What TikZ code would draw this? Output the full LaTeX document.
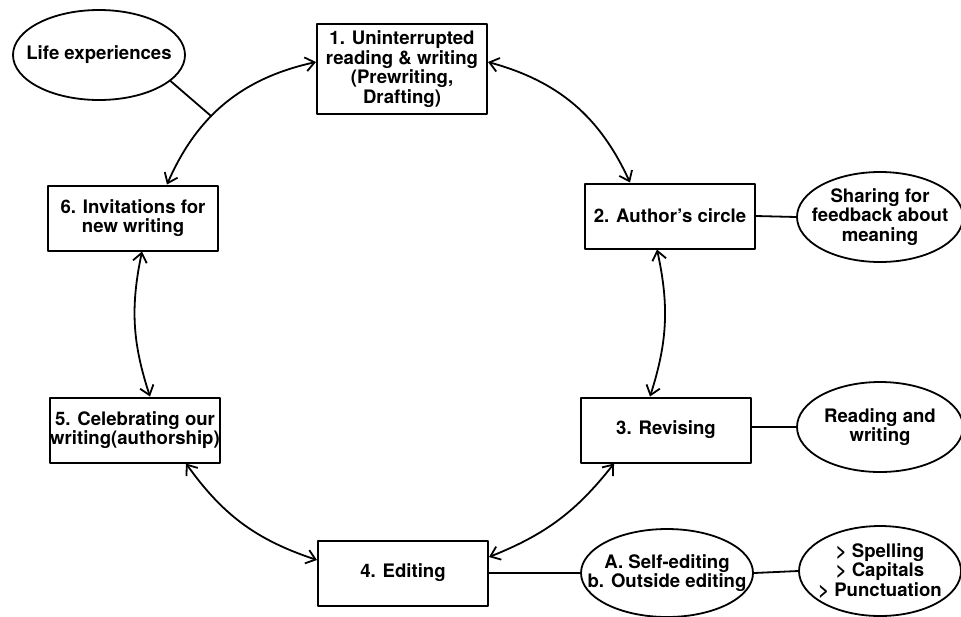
\documentclass[tikz,border=0pt]{standalone}
\usepackage{fontspec}
\setmainfont{TeX Gyre Heros}
\usetikzlibrary{shapes.geometric, arrows.meta}
\tikzset{
  stage/.style={draw, line width=1pt, minimum width=85pt, minimum height=32.5pt, inner sep=0pt, align=center},
  oval/.style={draw, ellipse, line width=0.9pt, minimum width=83pt, minimum height=45pt, inner sep=0pt},
  ovaltext/.style={align=center, inner sep=0pt},
  link/.style={line width=0.9pt},
  cycle/.style={<->, line width=0.9pt},
}
\begin{document}
\begin{tikzpicture}[x=0.5pt, y=-0.5pt, font=\bfseries\fontsize{9.3}{9.7}\selectfont, line join=round, line cap=round, >={Straight Barb[length=4.5pt,width=7pt]}]
\useasboundingbox (0,0) rectangle (961,616);
% the six stages
\path
(402,69) node[stage, minimum height=45pt] (b1) {1. Uninterrupted\\reading \& writing\\(Prewriting,\\Drafting)}
(670,216) node[stage] (b2) {2. Author's circle}
(666,430) node[stage] (b3) {3. Revising}
(403,573) node[stage] (b4) {4. Editing}
(135,430) node[stage] (b5) {5. Celebrating our\\writing(authorship)}
(133,218) node[stage] (b6) {6. Invitations for\\new writing}
;
% side notes
\path
(99,55) node[oval, minimum width=86pt, label={[ovaltext]center:Life experiences}] (life) {}
(880,217) node[oval, label={[ovaltext]center:Sharing for\\feedback about\\meaning}] (share) {}
(880,427) node[oval, label={[ovaltext]center:Reading and\\writing}] (read) {}
(667,573) node[oval, minimum width=86pt, minimum height=44pt, label={[ovaltext]center:A. Self-editing\\b. Outside editing}] (self) {}
(880,571) node[oval, minimum width=81pt, label={[ovaltext]center:> Spelling\\> Capitals\\> Punctuation}] (spell) {}
;
% the cycle
\draw[cycle] ([yshift=3.5pt]b1.east) to[bend left=25] ([xshift=-20pt]b2.north);
\draw[cycle] ([xshift=-6.5pt]b2.south) to[bend left=15] ([xshift=-8pt]b3.north);
\draw[cycle] ([xshift=-26pt]b3.south) to[bend left=15] ([yshift=8pt]b4.east);
\draw[cycle] ([yshift=6.5pt]b4.west) to[bend left=18] ([xshift=25.5pt]b5.south);
\draw[cycle] ([xshift=7.5pt]b5.north) to[bend left=15] ([xshift=4.5pt]b6.south);
\draw[cycle] ([xshift=17pt]b6.north) to[bend left=27] coordinate[pos=.4](j) ([yshift=3.5pt]b1.west);
% links
\draw[link] (life.-20) -- (j);
\draw[link] (b2.east) -- (share.west);
\draw[link] (read.west -| b3.east) -- (read.west);
\draw[link] (b4.east) -- (self.west);
\draw[link] (self.east) -- (spell.west);
\end{tikzpicture}
\end{document}
